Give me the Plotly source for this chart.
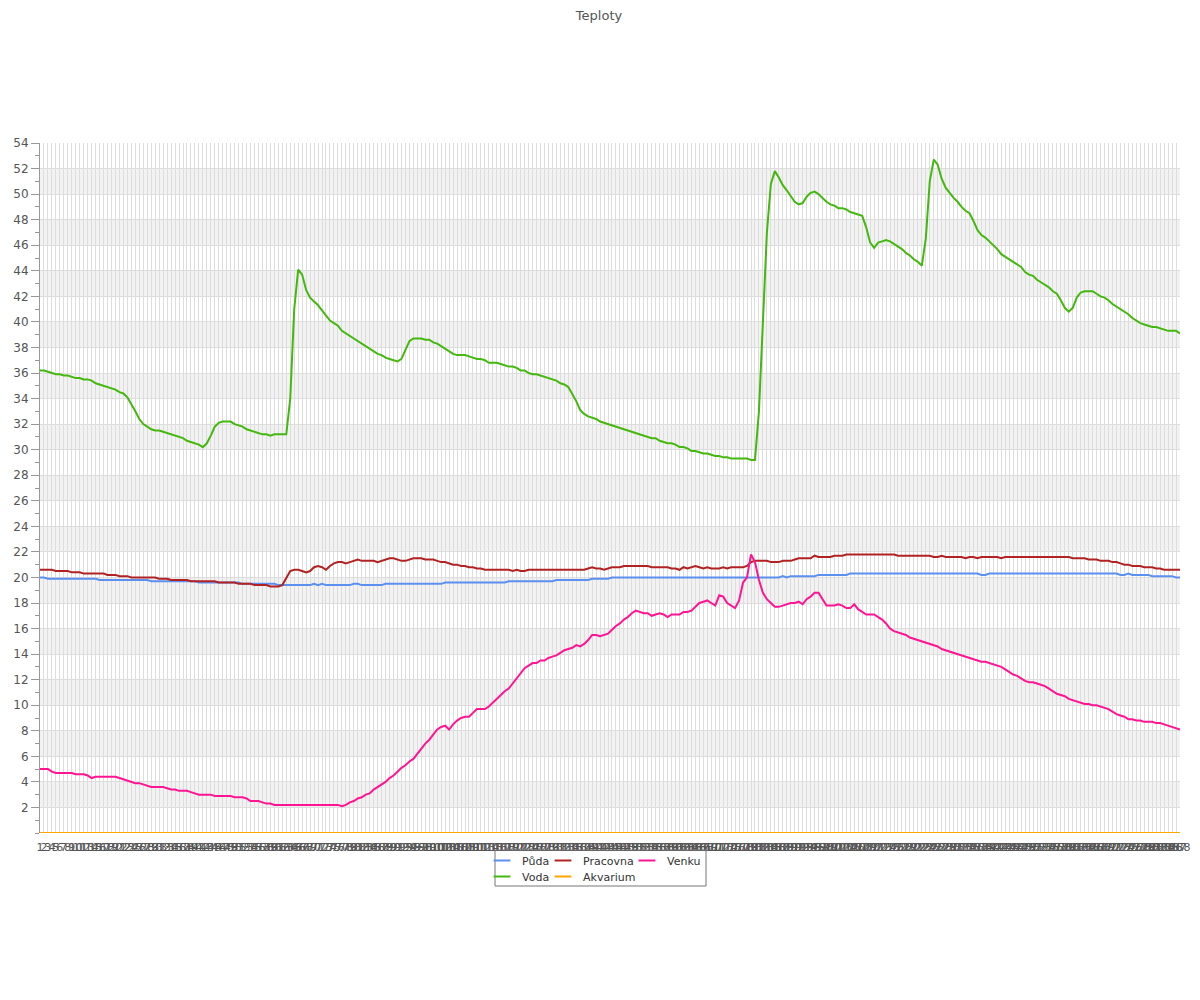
import plotly.graph_objects as go

# ---------------- data ----------------
categories = [str(i) for i in range(1, 289)]

puda = [
    20.0, 20.0, 19.9, 19.9, 19.9, 19.9, 19.9, 19.9, 19.9, 19.9,
    19.9, 19.9, 19.9, 19.9, 19.9, 19.8, 19.8, 19.8, 19.8, 19.8,
    19.8, 19.8, 19.8, 19.8, 19.8, 19.8, 19.8, 19.8, 19.7, 19.7,
    19.7, 19.7, 19.7, 19.7, 19.7, 19.7, 19.7, 19.7, 19.7, 19.7,
    19.6, 19.6, 19.6, 19.6, 19.6, 19.6, 19.6, 19.6, 19.6, 19.6,
    19.6, 19.5, 19.5, 19.5, 19.5, 19.5, 19.5, 19.5, 19.5, 19.5,
    19.4, 19.4, 19.4, 19.4, 19.4, 19.4, 19.4, 19.4, 19.4, 19.5,
    19.4, 19.5, 19.4, 19.4, 19.4, 19.4, 19.4, 19.4, 19.4, 19.5,
    19.5, 19.4, 19.4, 19.4, 19.4, 19.4, 19.4, 19.5, 19.5, 19.5,
    19.5, 19.5, 19.5, 19.5, 19.5, 19.5, 19.5, 19.5, 19.5, 19.5,
    19.5, 19.5, 19.6, 19.6, 19.6, 19.6, 19.6, 19.6, 19.6, 19.6,
    19.6, 19.6, 19.6, 19.6, 19.6, 19.6, 19.6, 19.6, 19.7, 19.7,
    19.7, 19.7, 19.7, 19.7, 19.7, 19.7, 19.7, 19.7, 19.7, 19.7,
    19.8, 19.8, 19.8, 19.8, 19.8, 19.8, 19.8, 19.8, 19.8, 19.9,
    19.9, 19.9, 19.9, 19.9, 20.0, 20.0, 20.0, 20.0, 20.0, 20.0,
    20.0, 20.0, 20.0, 20.0, 20.0, 20.0, 20.0, 20.0, 20.0, 20.0,
    20.0, 20.0, 20.0, 20.0, 20.0, 20.0, 20.0, 20.0, 20.0, 20.0,
    20.0, 20.0, 20.0, 20.0, 20.0, 20.0, 20.0, 20.0, 20.0, 20.0,
    20.0, 20.0, 20.0, 20.0, 20.0, 20.0, 20.0, 20.1, 20.0, 20.1,
    20.1, 20.1, 20.1, 20.1, 20.1, 20.1, 20.2, 20.2, 20.2, 20.2,
    20.2, 20.2, 20.2, 20.2, 20.3, 20.3, 20.3, 20.3, 20.3, 20.3,
    20.3, 20.3, 20.3, 20.3, 20.3, 20.3, 20.3, 20.3, 20.3, 20.3,
    20.3, 20.3, 20.3, 20.3, 20.3, 20.3, 20.3, 20.3, 20.3, 20.3,
    20.3, 20.3, 20.3, 20.3, 20.3, 20.3, 20.3, 20.2, 20.2, 20.3,
    20.3, 20.3, 20.3, 20.3, 20.3, 20.3, 20.3, 20.3, 20.3, 20.3,
    20.3, 20.3, 20.3, 20.3, 20.3, 20.3, 20.3, 20.3, 20.3, 20.3,
    20.3, 20.3, 20.3, 20.3, 20.3, 20.3, 20.3, 20.3, 20.3, 20.3,
    20.3, 20.3, 20.2, 20.2, 20.3, 20.2, 20.2, 20.2, 20.2, 20.2,
    20.1, 20.1, 20.1, 20.1, 20.1, 20.1, 20.0, 20.0,
]

voda = [
    36.2, 36.2, 36.1, 36.0, 35.9, 35.9, 35.8, 35.8, 35.7, 35.6,
    35.6, 35.5, 35.5, 35.4, 35.2, 35.1, 35.0, 34.9, 34.8, 34.7,
    34.5, 34.4, 34.1, 33.6, 33.0, 32.4, 32.0, 31.8, 31.6, 31.5,
    31.5, 31.4, 31.3, 31.2, 31.1, 31.0, 30.9, 30.7, 30.6, 30.5,
    30.4, 30.2, 30.5, 31.1, 31.8, 32.1, 32.2, 32.2, 32.2, 32.0,
    31.9, 31.8, 31.6, 31.5, 31.4, 31.3, 31.2, 31.2, 31.1, 31.2,
    31.2, 31.2, 31.2, 34.0, 41.0, 44.1, 43.7, 42.5, 41.9, 41.6,
    41.3, 40.9, 40.5, 40.1, 39.9, 39.7, 39.3, 39.1, 38.9, 38.7,
    38.5, 38.3, 38.1, 37.9, 37.7, 37.5, 37.4, 37.2, 37.1, 37.0,
    36.9, 37.1, 37.8, 38.5, 38.7, 38.7, 38.7, 38.6, 38.6, 38.4,
    38.3, 38.1, 37.9, 37.7, 37.5, 37.4, 37.4, 37.4, 37.3, 37.2,
    37.1, 37.1, 37.0, 36.8, 36.8, 36.8, 36.7, 36.6, 36.5, 36.5,
    36.4, 36.2, 36.2, 36.0, 35.9, 35.9, 35.8, 35.7, 35.6, 35.5,
    35.4, 35.2, 35.1, 34.9, 34.4, 33.8, 33.1, 32.8, 32.6, 32.5,
    32.4, 32.2, 32.1, 32.0, 31.9, 31.8, 31.7, 31.6, 31.5, 31.4,
    31.3, 31.2, 31.1, 31.0, 30.9, 30.9, 30.7, 30.6, 30.5, 30.5,
    30.4, 30.2, 30.2, 30.1, 29.9, 29.9, 29.8, 29.7, 29.7, 29.6,
    29.5, 29.5, 29.4, 29.4, 29.3, 29.3, 29.3, 29.3, 29.3, 29.2,
    29.2, 33.0, 40.5, 47.0, 50.8, 51.8, 51.3, 50.7, 50.3, 49.8,
    49.4, 49.2, 49.3, 49.8, 50.1, 50.2, 50.0, 49.7, 49.4, 49.2,
    49.1, 48.9, 48.9, 48.8, 48.6, 48.5, 48.4, 48.3, 47.4, 46.2,
    45.8, 46.2, 46.3, 46.4, 46.3, 46.1, 45.9, 45.7, 45.4, 45.2,
    44.9, 44.7, 44.4, 46.5, 51.0, 52.7, 52.3, 51.2, 50.5, 50.1,
    49.7, 49.4, 49.0, 48.7, 48.5, 47.9, 47.2, 46.8, 46.6, 46.3,
    46.0, 45.7, 45.3, 45.1, 44.9, 44.7, 44.5, 44.3, 43.9, 43.7,
    43.6, 43.3, 43.1, 42.9, 42.7, 42.4, 42.2, 41.7, 41.1, 40.8,
    41.1, 41.9, 42.3, 42.4, 42.4, 42.4, 42.2, 42.0, 41.9, 41.7,
    41.4, 41.2, 41.0, 40.8, 40.6, 40.3, 40.1, 39.9, 39.8, 39.7,
    39.6, 39.6, 39.5, 39.4, 39.3, 39.3, 39.3, 39.1,
]

pracovna = [
    20.6, 20.6, 20.6, 20.6, 20.5, 20.5, 20.5, 20.5, 20.4, 20.4,
    20.4, 20.3, 20.3, 20.3, 20.3, 20.3, 20.3, 20.2, 20.2, 20.2,
    20.1, 20.1, 20.1, 20.0, 20.0, 20.0, 20.0, 20.0, 20.0, 20.0,
    19.9, 19.9, 19.9, 19.8, 19.8, 19.8, 19.8, 19.8, 19.7, 19.7,
    19.7, 19.7, 19.7, 19.7, 19.7, 19.6, 19.6, 19.6, 19.6, 19.6,
    19.5, 19.5, 19.5, 19.5, 19.4, 19.4, 19.4, 19.4, 19.3, 19.3,
    19.3, 19.4, 19.9, 20.5, 20.6, 20.6, 20.5, 20.4, 20.5, 20.8,
    20.9, 20.8, 20.6, 20.9, 21.1, 21.2, 21.2, 21.1, 21.2, 21.3,
    21.4, 21.3, 21.3, 21.3, 21.3, 21.2, 21.3, 21.4, 21.5, 21.5,
    21.4, 21.3, 21.3, 21.4, 21.5, 21.5, 21.5, 21.4, 21.4, 21.4,
    21.3, 21.2, 21.2, 21.1, 21.0, 21.0, 20.9, 20.9, 20.8, 20.8,
    20.7, 20.7, 20.6, 20.6, 20.6, 20.6, 20.6, 20.6, 20.6, 20.5,
    20.6, 20.5, 20.5, 20.6, 20.6, 20.6, 20.6, 20.6, 20.6, 20.6,
    20.6, 20.6, 20.6, 20.6, 20.6, 20.6, 20.6, 20.6, 20.7, 20.8,
    20.7, 20.7, 20.6, 20.7, 20.8, 20.8, 20.8, 20.9, 20.9, 20.9,
    20.9, 20.9, 20.9, 20.9, 20.8, 20.8, 20.8, 20.8, 20.8, 20.7,
    20.7, 20.6, 20.8, 20.7, 20.8, 20.9, 20.8, 20.7, 20.8, 20.7,
    20.7, 20.7, 20.8, 20.7, 20.8, 20.8, 20.8, 20.8, 20.9, 21.2,
    21.3, 21.3, 21.3, 21.3, 21.2, 21.2, 21.2, 21.3, 21.3, 21.3,
    21.4, 21.5, 21.5, 21.5, 21.5, 21.7, 21.6, 21.6, 21.6, 21.6,
    21.7, 21.7, 21.7, 21.8, 21.8, 21.8, 21.8, 21.8, 21.8, 21.8,
    21.8, 21.8, 21.8, 21.8, 21.8, 21.8, 21.7, 21.7, 21.7, 21.7,
    21.7, 21.7, 21.7, 21.7, 21.7, 21.6, 21.6, 21.7, 21.6, 21.6,
    21.6, 21.6, 21.6, 21.5, 21.6, 21.6, 21.5, 21.6, 21.6, 21.6,
    21.6, 21.6, 21.5, 21.6, 21.6, 21.6, 21.6, 21.6, 21.6, 21.6,
    21.6, 21.6, 21.6, 21.6, 21.6, 21.6, 21.6, 21.6, 21.6, 21.6,
    21.5, 21.5, 21.5, 21.5, 21.4, 21.4, 21.4, 21.3, 21.3, 21.3,
    21.2, 21.2, 21.1, 21.0, 21.0, 20.9, 20.9, 20.9, 20.8, 20.8,
    20.8, 20.7, 20.7, 20.6, 20.6, 20.6, 20.6, 20.6,
]

akvarium = [0.0] * 288

venku = [
    5.0, 5.0, 5.0, 4.8, 4.7, 4.7, 4.7, 4.7, 4.7, 4.6,
    4.6, 4.6, 4.5, 4.3, 4.4, 4.4, 4.4, 4.4, 4.4, 4.4,
    4.3, 4.2, 4.1, 4.0, 3.9, 3.9, 3.8, 3.7, 3.6, 3.6,
    3.6, 3.6, 3.5, 3.4, 3.4, 3.3, 3.3, 3.3, 3.2, 3.1,
    3.0, 3.0, 3.0, 3.0, 2.9, 2.9, 2.9, 2.9, 2.9, 2.8,
    2.8, 2.8, 2.7, 2.5, 2.5, 2.5, 2.4, 2.3, 2.3, 2.2,
    2.2, 2.2, 2.2, 2.2, 2.2, 2.2, 2.2, 2.2, 2.2, 2.2,
    2.2, 2.2, 2.2, 2.2, 2.2, 2.2, 2.1, 2.2, 2.4, 2.5,
    2.7, 2.8, 3.0, 3.1, 3.4, 3.6, 3.8, 4.0, 4.3, 4.5,
    4.8, 5.1, 5.3, 5.6, 5.8, 6.2, 6.6, 7.0, 7.3, 7.7,
    8.1, 8.3, 8.4, 8.1, 8.5, 8.8, 9.0, 9.1, 9.1, 9.4,
    9.7, 9.7, 9.7, 9.9, 10.2, 10.5, 10.8, 11.1, 11.3, 11.7,
    12.1, 12.5, 12.9, 13.1, 13.3, 13.3, 13.5, 13.5, 13.7, 13.8,
    13.9, 14.1, 14.3, 14.4, 14.5, 14.7, 14.6, 14.8, 15.1, 15.5,
    15.5, 15.4, 15.5, 15.6, 15.9, 16.2, 16.4, 16.7, 16.9, 17.2,
    17.4, 17.3, 17.2, 17.2, 17.0, 17.1, 17.2, 17.1, 16.9, 17.1,
    17.1, 17.1, 17.3, 17.3, 17.4, 17.7, 18.0, 18.1, 18.2, 18.0,
    17.8, 18.6, 18.5, 18.0, 17.8, 17.6, 18.2, 19.6, 20.0, 21.8,
    21.2, 19.8, 18.8, 18.3, 18.0, 17.7, 17.7, 17.8, 17.9, 18.0,
    18.0, 18.1, 17.9, 18.3, 18.5, 18.8, 18.8, 18.3, 17.8, 17.8,
    17.8, 17.9, 17.8, 17.6, 17.6, 17.9, 17.5, 17.3, 17.1, 17.1,
    17.1, 16.9, 16.7, 16.4, 16.0, 15.8, 15.7, 15.6, 15.5, 15.3,
    15.2, 15.1, 15.0, 14.9, 14.8, 14.7, 14.6, 14.4, 14.3, 14.2,
    14.1, 14.0, 13.9, 13.8, 13.7, 13.6, 13.5, 13.4, 13.4, 13.3,
    13.2, 13.1, 13.0, 12.8, 12.6, 12.4, 12.3, 12.1, 11.9, 11.8,
    11.8, 11.7, 11.6, 11.5, 11.3, 11.1, 10.9, 10.8, 10.7, 10.5,
    10.4, 10.3, 10.2, 10.1, 10.1, 10.0, 10.0, 9.9, 9.8, 9.7,
    9.5, 9.3, 9.2, 9.1, 8.9, 8.9, 8.8, 8.8, 8.7, 8.7,
    8.7, 8.6, 8.6, 8.5, 8.4, 8.3, 8.2, 8.1,
]

y_ticks = list(range(2, 55, 2))
band_starts = list(range(2, 52, 4))

# ---------------- figure ----------------
FONT = "DejaVu Sans"
fig = go.Figure()

# (name, values, colour, legend id, legend column, legend row)
series = [
    ("Půda", puda, "#5b8ff0", "legend", 0, 0),
    ("Voda", voda, "#44b80e", "legend2", 0, 1),
    ("Pracovna", pracovna, "#b22222", "legend3", 1, 0),
    ("Akvarium", akvarium, "#ffa500", "legend4", 1, 1),
    ("Venku", venku, "#ff1493", "legend5", 2, 0),
]
col_x = [(482 - 40) / 1140, (543 - 40) / 1140, (627 - 40) / 1140]
row_y = [(833 - 846) / 690, (833 - 862) / 690]

for name, vals, color, lg, c, r in series:
    fig.add_trace(go.Scatter(
        x=categories, y=vals, mode="lines", name=name,
        line=dict(color=color, width=2), showlegend=False,
    ))

legend_layout = {}
for name, vals, color, lg, c, r in series:
    # legend-only entry with a short line symbol
    fig.add_trace(go.Scatter(
        x=[None], y=[None], mode="markers", name=name, legend=lg,
        marker=dict(symbol="line-ew", size=12, color=color,
                    line=dict(color=color, width=2)),
        hoverinfo="skip",
    ))
    legend_layout[lg] = dict(
        orientation="v", xref="paper", yref="paper",
        x=col_x[c], xanchor="left", y=row_y[r], yanchor="top",
        font=dict(size=11, color="#333333"), bgcolor="rgba(0,0,0,0)",
        borderwidth=0,
    )

shapes = []
for b in band_starts:
    shapes.append(dict(type="rect", xref="paper", yref="y", x0=0, x1=1,
                       y0=b, y1=b + 2, fillcolor="#f2f2f2",
                       line=dict(width=0), layer="below"))
# legend frame
shapes.append(dict(type="rect", xref="paper", yref="paper",
                   x0=(495 - 40) / 1140, x1=(706 - 40) / 1140,
                   y0=(833 - 886) / 690, y1=(833 - 850) / 690,
                   line=dict(color="#777777", width=1),
                   fillcolor="rgba(0,0,0,0)"))

fig.update_layout(
    width=1200, height=1000,
    margin=dict(l=32, r=28, t=135, b=175),
    paper_bgcolor="white", plot_bgcolor="white",
    font=dict(family=FONT, size=11, color="#555555"),
    title=dict(text="Teploty", x=591 / 1200, xanchor="center", y=0.997,
               yanchor="top", font=dict(size=13, color="#555555")),
    shapes=shapes,
    showlegend=True,
    **legend_layout,
)

fig.update_xaxes(
    type="category", range=[0, len(categories) - 1],
    tickmode="array", tickvals=categories, ticktext=categories,
    tickangle=0, tickfont=dict(size=11, color="#555555"),
    showgrid=True, gridcolor="#dddddd", gridwidth=1,
    showline=False, zeroline=False, ticks="", ticklabelstandoff=6,
    automargin=False,
)
fig.update_yaxes(
    range=[0, 54], tickmode="array", tickvals=y_ticks,
    tickfont=dict(size=12, color="#555555"),
    showgrid=True, gridcolor="#dddddd", gridwidth=1,
    showline=True, linecolor="#999999", linewidth=1,
    ticks="outside", ticklen=8, tickcolor="#999999",
    minor=dict(dtick=1, tick0=0, ticks="outside", ticklen=4,
               tickcolor="#999999", showgrid=False),
    zeroline=False, automargin=False,
)

fig.write_html("out.html")
